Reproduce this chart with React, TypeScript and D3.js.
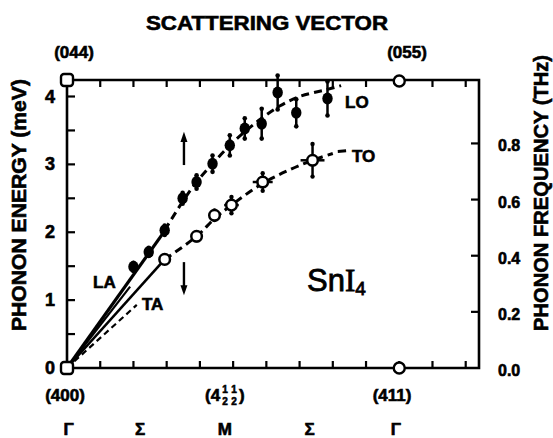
import React from "react";
import * as d3 from "d3";

// ---- data (x in reciprocal-lattice tick units along path, E in meV) ----
const loX = [2.0, 2.46, 2.94, 3.48, 3.9, 4.38, 4.9, 5.35, 5.86, 6.34, 6.9, 7.84];
const loE = [1.49, 1.71, 2.03, 2.5, 2.74, 3.01, 3.28, 3.53, 3.6, 4.06, 3.76, 3.97];
const loErr = [0.06, 0.06, 0.07, 0.08, 0.1, 0.12, 0.15, 0.15, 0.22, 0.25, 0.2, 0.25];

const toX = [2.94, 3.9, 4.44, 4.95, 5.89, 7.39];
const toE = [1.6, 1.94, 2.25, 2.4, 2.74, 3.06];
const toErr = [0.05, 0.06, 0.07, 0.12, 0.13, 0.24];
const toXErr = [0, 0, 0.1, 0.22, 0.3, 0.36];

// guide curves
const loGuideX = [2.94, 3.48, 3.9, 4.38, 4.9, 5.35, 5.86, 6.4, 7.0, 7.8, 8.25];
const loGuideE = [2.03, 2.45, 2.74, 3.01, 3.28, 3.48, 3.68, 3.86, 4.0, 4.1, 4.16];
const toGuideX = [2.94, 3.9, 4.44, 4.95, 5.89, 6.7, 7.39, 8.0];
const toGuideE = [1.6, 1.94, 2.2, 2.4, 2.72, 2.92, 3.06, 3.16];

// initial acoustic slopes (solid lines from Γ)
const acoustic = [
  { name: "LA", x: 3.0, e: 2.06, w: 3.2, dash: "" },
  { name: "LA2", x: 1.9, e: 1.2, w: 2.2, dash: "" },
  { name: "TA", x: 2.94, e: 1.6, w: 2.6, dash: "" },
  { name: "TA2", x: 2.1, e: 0.93, w: 2.2, dash: "6,4" },
];

const leftTicks = [0, 1, 2, 3, 4];
const leftMinor = [0.5, 1, 1.5, 2, 2.5, 3, 3.5, 4];
const rightTicks = [0.0, 0.2, 0.4, 0.6, 0.8];
const xTicks = [1, 2, 3, 4, 5, 6, 7, 8, 9, 10, 11, 12];
const greek = [
  { x: 0.05, t: "Γ" },
  { x: 2.2, t: "Σ" },
  { x: 4.75, t: "M" },
  { x: 7.3, t: "Σ" },
  { x: 9.9, t: "Γ" },
];
const meVperTHz = 4.1357;

const FONT = "'Liberation Sans', Arial, sans-serif";
const heavy = { fontWeight: "bold" as const, stroke: "#000", strokeWidth: 0.6 };

export default function App() {
  const x = d3.scaleLinear().domain([0, 12.4]).range([67, 479]);
  const y = d3.scaleLinear().domain([0, 4]).range([368, 96.5]);
  const yT = (f: number) => y(f * meVperTHz);
  const top = 80;
  const left = x(0);
  const right = x(12.4);
  const bottom = y(0);

  const line = d3
    .line<[number, number]>()
    .x((d) => x(d[0]))
    .y((d) => y(d[1]))
    .curve(d3.curveCatmullRom.alpha(0.5));

  const loPath = line(loGuideX.map((v, i) => [v, loGuideE[i]]) as [number, number][]);
  const toPath = line(toGuideX.map((v, i) => [v, toGuideE[i]]) as [number, number][]);

  const arrowX = x(3.52);

  return (
    <svg
      width={553}
      height={438}
      style={{ position: "absolute", left: 0, top: 0, background: "#fff" }}
      fontFamily={FONT}
    >
      {/* title */}
      <text x={267} y={30} textAnchor="middle" fontSize={20} {...heavy} textLength={242} lengthAdjust="spacingAndGlyphs">
        SCATTERING VECTOR
      </text>
      <text x={74} y={58} textAnchor="middle" fontSize={17} {...heavy}>(044)</text>
      <text x={407} y={58} textAnchor="middle" fontSize={17} {...heavy}>(055)</text>

      {/* frame */}
      <path
        d={`M${left},${top}H${right}V${bottom}H${left}Z`}
        fill="none"
        stroke="#000"
        strokeWidth={2.6}
      />
      {xTicks.map((t) => (
        <g key={"xt" + t}>
          <line x1={x(t)} x2={x(t)} y1={top} y2={top + 7} stroke="#000" strokeWidth={2.2} />
          <line x1={x(t)} x2={x(t)} y1={bottom} y2={bottom - 7} stroke="#000" strokeWidth={2.2} />
        </g>
      ))}
      {leftMinor.map((t) => (
        <line key={"lt" + t} x1={left} x2={left + 8} y1={y(t)} y2={y(t)} stroke="#000" strokeWidth={2.2} />
      ))}
      {rightTicks.slice(1).map((t) => (
        <line key={"rt" + t} x1={right} x2={right - 8} y1={yT(t)} y2={yT(t)} stroke="#000" strokeWidth={2.2} />
      ))}

      {/* left tick labels */}
      {leftTicks.map((t) => (
        <text key={"ll" + t} x={55} y={y(t) + 6} textAnchor="end" fontSize={18} {...heavy}>
          {t}
        </text>
      ))}
      {/* right tick labels */}
      {rightTicks.map((t) => (
        <text key={"rl" + t} x={498} y={yT(t) + 8} fontSize={16} {...heavy}>
          {t.toFixed(1)}
        </text>
      ))}

      {/* axis titles */}
      <text
        transform="translate(26,205) rotate(-90)"
        textAnchor="middle"
        fontSize={21}
        {...heavy}
        textLength={252}
        lengthAdjust="spacingAndGlyphs"
      >
        PHONON ENERGY (meV)
      </text>
      <text
        transform="translate(548,193) rotate(-90)"
        textAnchor="middle"
        fontSize={21}
        {...heavy}
        textLength={276}
        lengthAdjust="spacingAndGlyphs"
      >
        PHONON FREQUENCY (THz)
      </text>

      {/* bottom labels */}
      <text x={65} y={401} textAnchor="middle" fontSize={17} {...heavy}>(400)</text>
      <g {...heavy}>
        <text x={205} y={401} fontSize={17}>(4</text>
        <text x={225} y={393} fontSize={10} textAnchor="middle">1</text>
        <text x={225} y={405} fontSize={10} textAnchor="middle">2</text>
        <text x={234} y={393} fontSize={10} textAnchor="middle">1</text>
        <text x={234} y={405} fontSize={10} textAnchor="middle">2</text>
        <text x={239} y={401} fontSize={17}>)</text>
      </g>
      <text x={392} y={401} textAnchor="middle" fontSize={17} {...heavy}>(411)</text>
      {greek.map((g, i) => (
        <text key={"g" + i} x={x(g.x)} y={435} textAnchor="middle" fontSize={17} {...heavy}>
          {g.t}
        </text>
      ))}

      {/* acoustic lines */}
      {acoustic.map((a) => (
        <line
          key={a.name}
          x1={x(0)}
          y1={y(0)}
          x2={x(a.x)}
          y2={y(a.e)}
          stroke="#000"
          strokeWidth={a.w}
          strokeDasharray={a.dash || undefined}
        />
      ))}

      {/* dashed guide curves */}
      <path d={loPath || ""} fill="none" stroke="#000" strokeWidth={3} strokeDasharray="8,5" />
      <path d={toPath || ""} fill="none" stroke="#000" strokeWidth={3} strokeDasharray="8,5" />

      {/* LO/LA error bars and points */}
      {loX.map((v, i) => (
        <g key={"lo" + i}>
          <line x1={x(v)} x2={x(v)} y1={y(loE[i] - loErr[i])} y2={y(loE[i] + loErr[i])} stroke="#000" strokeWidth={2.5} />
          <circle cx={x(v)} cy={y(loE[i] - loErr[i])} r={2.3} fill="#000" />
          <circle cx={x(v)} cy={y(loE[i] + loErr[i])} r={2.3} fill="#000" />
          <ellipse cx={x(v)} cy={y(loE[i])} rx={5.2} ry={6} fill="#000" />
        </g>
      ))}

      {/* TO/TA error bars and points */}
      {toX.map((v, i) => (
        <g key={"to" + i}>
          <line x1={x(v)} x2={x(v)} y1={y(toE[i] - toErr[i])} y2={y(toE[i] + toErr[i])} stroke="#000" strokeWidth={2.5} />
          {toXErr[i] > 0 && (
            <line x1={x(v - toXErr[i])} x2={x(v + toXErr[i])} y1={y(toE[i])} y2={y(toE[i])} stroke="#000" strokeWidth={2.5} />
          )}
          <circle cx={x(v)} cy={y(toE[i] - toErr[i])} r={2.2} fill="#000" />
          <circle cx={x(v)} cy={y(toE[i] + toErr[i])} r={2.2} fill="#000" />
          <circle cx={x(v)} cy={y(toE[i])} r={5.3} fill="#fff" stroke="#000" strokeWidth={2.5} />
        </g>
      ))}

      {/* zone-boundary markers */}
      <rect x={left - 6} y={top - 6} width={12} height={12} rx={3} fill="#fff" stroke="#000" strokeWidth={2.4} />
      <rect x={left - 6} y={bottom - 6} width={12} height={12} rx={3} fill="#fff" stroke="#000" strokeWidth={2.4} />
      <circle cx={x(10)} cy={top + 1} r={5.5} fill="#fff" stroke="#000" strokeWidth={2.4} />
      <circle cx={x(10)} cy={bottom} r={5.5} fill="#fff" stroke="#000" strokeWidth={2.4} />

      {/* arrows */}
      <line x1={arrowX} x2={arrowX} y1={y(2.99)} y2={y(3.35)} stroke="#000" strokeWidth={2.4} />
      <path d={`M${arrowX - 3.5},${y(3.33)} L${arrowX},${y(3.48)} L${arrowX + 3.5},${y(3.33)} Z`} fill="#000" />
      <line x1={arrowX} x2={arrowX} y1={y(1.56)} y2={y(1.2)} stroke="#000" strokeWidth={2.4} />
      <path d={`M${arrowX - 3.5},${y(1.22)} L${arrowX},${y(1.07)} L${arrowX + 3.5},${y(1.22)} Z`} fill="#000" />

      {/* branch labels */}
      <text x={93} y={288} fontSize={17} {...heavy}>LA</text>
      <text x={142} y={310} fontSize={17} {...heavy}>TA</text>
      <text x={345} y={108} fontSize={17} {...heavy}>LO</text>
      <text x={352} y={162} fontSize={17} {...heavy}>TO</text>
      <line x1={x(8.15)} x2={x(8.4)} y1={y(3.19)} y2={y(3.2)} stroke="#000" strokeWidth={3} />

      {/* compound label */}
      <text x={307} y={291} fontSize={31} stroke="#000" strokeWidth={0.8}>
        Sn<tspan fontFamily="'Liberation Serif', serif">I</tspan>
        <tspan fontSize={19} dy={4}>4</tspan>
      </text>
    </svg>
  );
}
